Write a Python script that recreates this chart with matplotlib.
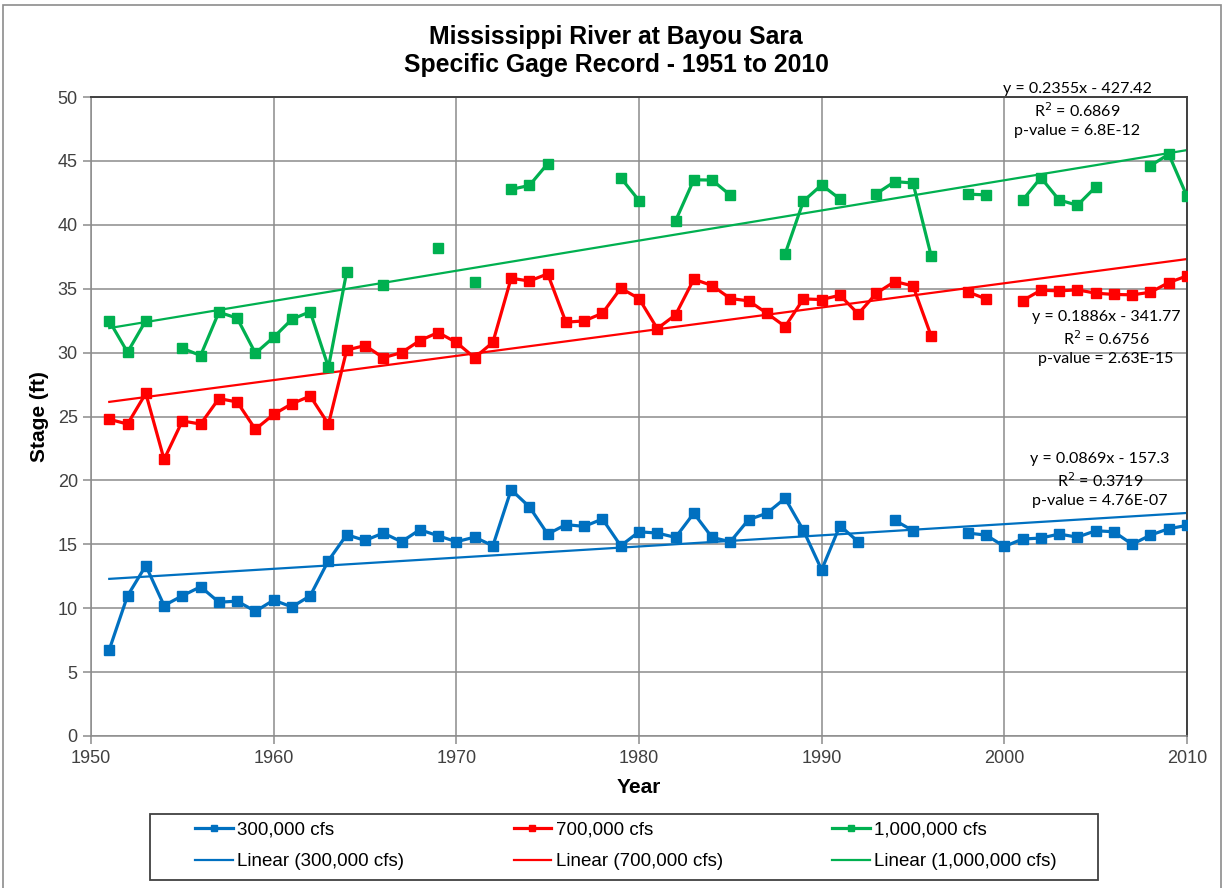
import matplotlib
matplotlib.use('Agg')  # no display
import matplotlib.pyplot as plt
import numpy as np
from matplotlib.patches import Rectangle

nan = np.nan

# Stage (ft) at Bayou Sara, one value per year 1951-2010 (nan = no reading)
years = np.arange(1951, 2011)

stage_300k = [6.75, 10.97, 13.33, 10.21, 10.97, 11.68, 10.47, 10.55, 9.76, 10.63,
              10.1, 10.97, 13.73, 15.75, 15.3, 15.88, 15.2, 16.14, 15.67, 15.2,
              15.56, 14.88, 19.27, 17.93, 15.8, 16.54, 16.4, 16.98, 14.88, 15.98,
              15.88, 15.54, 17.43, 15.54, 15.2, 16.93, 17.43, 18.6, 16.09, 13.0,
              16.46, 15.2, nan, 16.88, 16.06, nan, nan, 15.88, 15.72, 14.83,
              15.41, 15.49, 15.8, 15.56, 16.06, 15.98, 15.0, 15.72, 16.22, 16.48]

stage_700k = [24.78, 24.41, 26.81, 21.64, 24.65, 24.41, 26.4, 26.14, 24.0, 25.17,
              26.0, 26.6, 24.4, 30.2, 30.55, 29.6, 30.0, 30.94, 31.57, 30.8,
              29.6, 30.8, 35.82, 35.6, 36.16, 32.38, 32.48, 33.08, 35.04, 34.23,
              31.88, 32.95, 35.74, 35.25, 34.23, 34.05, 33.08, 32.04, 34.2, 34.15,
              34.49, 33.03, 34.65, 35.56, 35.22, 31.28, nan, 34.75, 34.2, nan,
              34.07, 34.88, 34.83, 34.91, 34.65, 34.55, 34.52, 34.72, 35.48, 36.0]

stage_1m = [32.48, 30.03, 32.5, nan, 30.34, 29.77, 33.16, 32.7, 29.95, 31.2,
            32.61, 33.2, 28.85, 36.34, nan, 35.3, nan, nan, 38.2, nan,
            35.5, nan, 42.77, 43.08, 44.78, nan, nan, nan, 43.68, 41.9,
            nan, 40.31, 43.52, 43.5, 42.32, nan, nan, 37.73, 41.85, 43.12,
            42.02, nan, 42.44, 43.38, 43.27, 37.54, nan, 42.4, 42.34, nan,
            41.92, 43.69, 41.94, 41.53, 42.96, nan, nan, 44.63, 45.52, 42.23]

series_names = ['300,000 cfs', '700,000 cfs', '1,000,000 cfs']
colors = ['#0070C0', '#FF0000', '#00B050']

# trendline labels as printed on the chart
trend_labels = [
    'y = 0.0869x - 157.3\nR$^2$ = 0.3719\np-value = 4.76E-07',
    'y = 0.1886x - 341.77\nR$^2$ = 0.6756\np-value = 2.63E-15',
    'y = 0.2355x - 427.42\nR$^2$ = 0.6869\np-value = 6.8E-12',
]

plt.rcParams['font.family'] = ['Liberation Sans', 'DejaVu Sans']

fig = plt.figure(figsize=(12.25, 8.88), dpi=100)
ax = fig.add_axes([91 / 1225, 1 - 736 / 888, 1096 / 1225, 639 / 888])

# outer chart border
fig.patches.append(Rectangle((3 / 1225, -0.01), 1218 / 1225, 1 - 5 / 888 + 0.01,
                             transform=fig.transFigure, fill=False,
                             edgecolor='#8c8c8c', linewidth=1.2))

handles = []
trend_handles = []
for vals, name, c in zip([stage_300k, stage_700k, stage_1m], series_names, colors):
    y = np.array(vals, dtype=float)
    h, = ax.plot(years, y, color=c, marker='s', markersize=6.5, linewidth=2.3,
                 label=name, zorder=3)
    ok = ~np.isnan(y)
    slope, icpt = np.polyfit(years[ok], y[ok], 1)
    t, = ax.plot(years, slope * years + icpt, color=c, linewidth=1.6,
                 label='Linear (%s)' % name, zorder=2)
    handles.append(h)
    trend_handles.append(t)

ax.set_xlim(1950, 2010)
ax.set_ylim(0, 50)
ax.set_xticks(range(1950, 2011, 10))
ax.set_yticks(range(0, 51, 5))
ax.grid(True, color='#8c8c8c', linewidth=1.1, zorder=0)
ax.set_axisbelow(True)
ax.tick_params(axis='both', labelsize=13, colors='#8c8c8c', labelcolor='#404040',
               length=6, width=1.1, direction='out')
ax.tick_params(axis='x', pad=4)
for side in ['left', 'bottom']:
    ax.spines[side].set_color('#8c8c8c')
    ax.spines[side].set_linewidth(1.1)
for side in ['top', 'right']:
    ax.spines[side].set_color('#404040')
    ax.spines[side].set_linewidth(1.4)

ax.set_xlabel('Year', fontsize=15, fontweight='bold', labelpad=8)
ax.set_ylabel('Stage (ft)', fontsize=15, fontweight='bold', labelpad=6)

fig.text(616 / 1225, 1 - 51 / 888,
         'Mississippi River at Bayou Sara\nSpecific Gage Record - 1951 to 2010',
         ha='center', va='center', fontsize=17.8, fontweight='bold', linespacing=1.25)

# trendline equation labels (figure pixel positions of the label centres)
label_pos = [(1100, 480), (1106, 338), (1077, 110)]
for (px, py), txt in zip(label_pos, trend_labels):
    fig.text(px / 1225, 1 - py / 888, txt, ha='center', va='center',
             fontsize=11.5, family=['Lato', 'DejaVu Sans'], color='black',
             linespacing=1.35)

# legend frame drawn separately, entries spread across it
fig.patches.append(Rectangle((150 / 1225, 1 - 880 / 888), 948 / 1225, 66 / 888,
                             transform=fig.transFigure, fill=False,
                             edgecolor='#404040', linewidth=1.3))
order = [handles[0], trend_handles[0], handles[1], trend_handles[1],
         handles[2], trend_handles[2]]
leg = fig.legend(handles=order, labels=[h.get_label() for h in order],
                 ncol=3, loc='center', mode='expand',
                 bbox_to_anchor=(195 / 1225, 1 - 846 / 888, 862 / 1225, 0),
                 fontsize=13.5, frameon=False, handlelength=2.0,
                 handletextpad=0.25, borderpad=0, borderaxespad=0,
                 labelspacing=0.75, markerscale=0.7)

plt.savefig('out.png', dpi=100)
plt.close()
